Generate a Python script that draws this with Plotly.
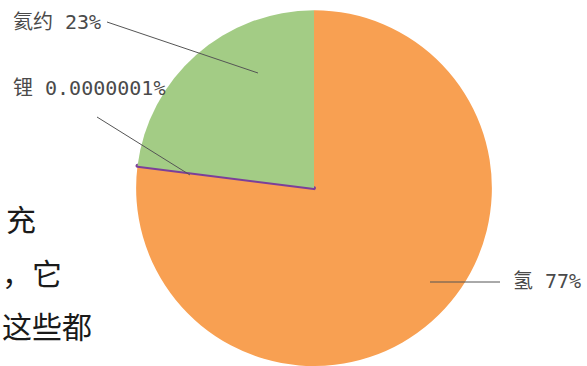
import plotly.graph_objects as go

W, H = 587, 366

# Data
elements = ["氢", "锂", "氦"]
shares = [77, 0.0000001, 23]
label_texts = ["氢 77%", "锂 0.0000001%", "氦约 23%"]
colors = ["#F8A052", "#7B3F9A", "#A3CC85"]

def px(x):
    return x / W

def py(y):
    return 1 - y / H

fig = go.Figure()
fig.add_trace(go.Pie(
    labels=elements,
    values=shares,
    sort=False,
    direction="clockwise",
    rotation=0,
    textinfo="none",
    hoverinfo="label+percent",
    marker=dict(colors=colors,
                line=dict(color=["rgba(0,0,0,0)", "#7B3F9A", "rgba(0,0,0,0)"],
                          width=[0, 4, 0])),
    domain=dict(x=[px(135), px(493)], y=[0, 0.972]),
    showlegend=False,
))

label_font = dict(family="DejaVu Sans Mono, Noto Sans CJK SC, monospace", size=20, color="#4a4a4a")

# label annotations (text) and leader lines
labels_pos = [
    (label_texts[2], 11, 22),
    (label_texts[1], 11, 88),
    (label_texts[0], 511, 281),
]
for t, x, y in labels_pos:
    fig.add_annotation(x=px(x), y=py(y), xref="paper", yref="paper", text=t,
                       showarrow=False, xanchor="left", yanchor="middle", font=label_font)

leaders = [
    (107, 22, 258, 73),
    (97, 117, 190, 175),
    (430, 282, 500, 282),
]
for x0, y0, x1, y1 in leaders:
    fig.add_shape(type="line", xref="paper", yref="paper",
                  x0=px(x0), y0=py(y0), x1=px(x1), y1=py(y1),
                  line=dict(color="#555555", width=1))

# cropped body text on the left
body_font = dict(family="Noto Sans CJK SC, sans-serif", size=30, color="#1a1a1a")
body_lines = [("充", 4, 218, "left"), ("，它", 0, 272, "left"), ("这些都", 0, 325, "left")]
for t, x, y, anc in body_lines:
    fig.add_annotation(x=px(x), y=py(y), xref="paper", yref="paper", text=t,
                       showarrow=False, xanchor=anc, yanchor="middle", font=body_font)

fig.update_layout(width=W, height=H, margin=dict(l=0, r=0, t=0, b=0),
                  paper_bgcolor="white", plot_bgcolor="white")

fig.write_html("out.html")
